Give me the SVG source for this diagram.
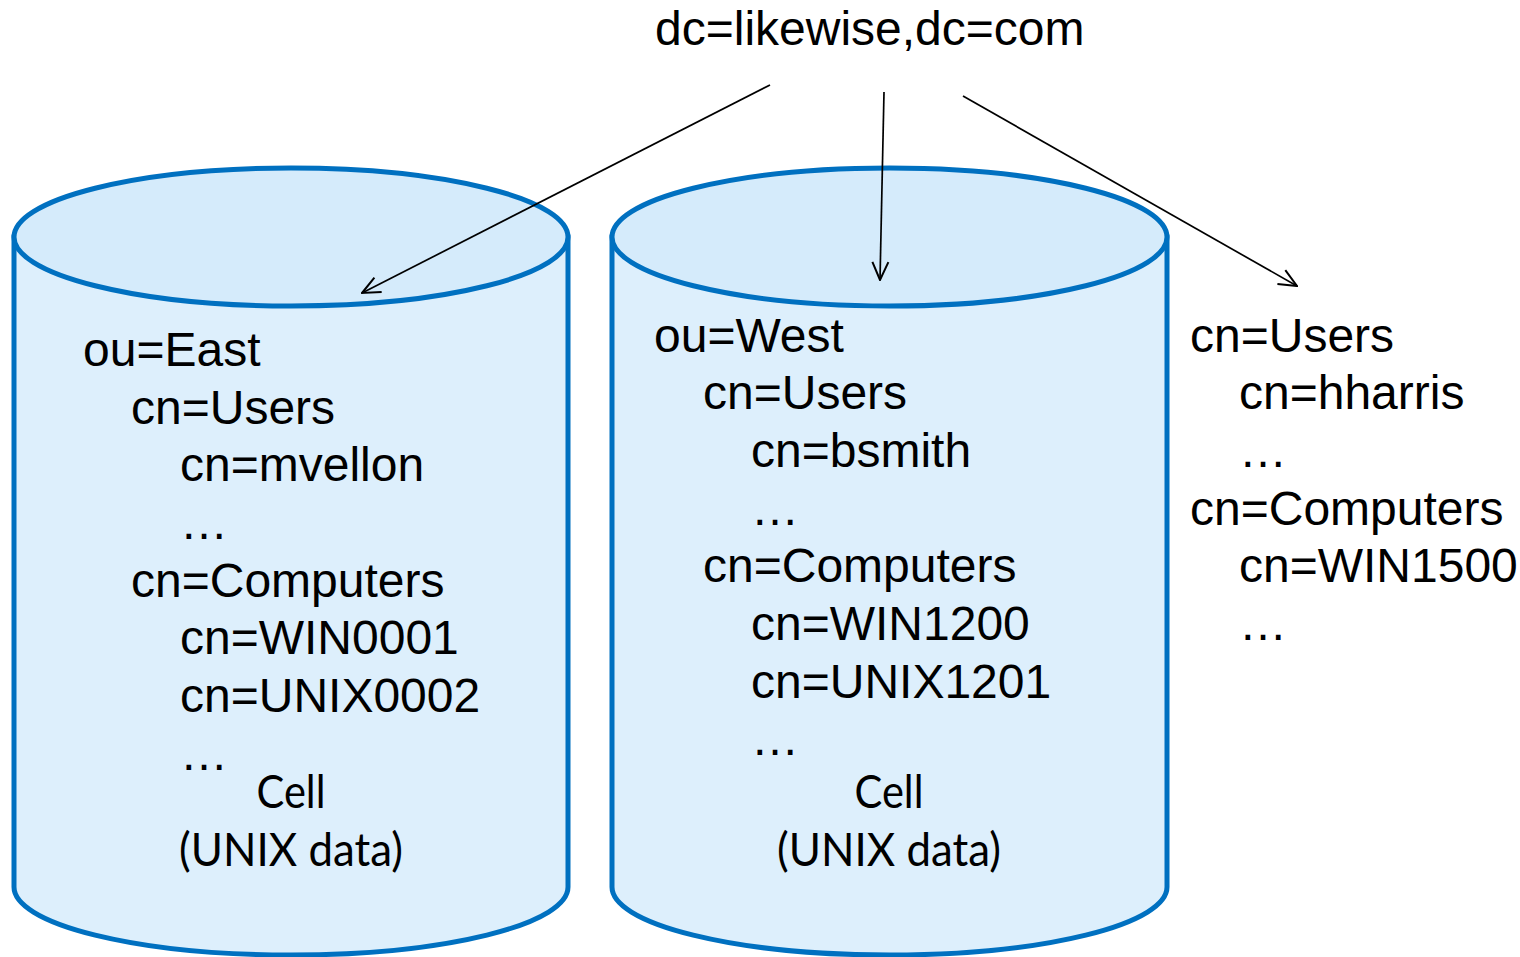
<svg xmlns="http://www.w3.org/2000/svg" width="1520" height="957" viewBox="0 0 1520 957">
<style>
.body{fill:#DDEFFC;stroke:#0070C0;stroke-width:5}
.top{fill:#D5EBFB;stroke:#0070C0;stroke-width:5}
.t{font-family:"Liberation Sans",Arial,sans-serif;font-size:48px;fill:#000}
.c{font-family:Lato,"Open Sans",sans-serif;font-size:46px;fill:#000;text-anchor:middle}
.arr{stroke:#000;stroke-width:1.7;fill:none;marker-end:url(#ah)}
</style>
<defs>
<marker id="ah" viewBox="0 0 20 20" refX="19" refY="10" markerWidth="20" markerHeight="20" markerUnits="userSpaceOnUse" orient="auto">
<path d="M1,2 L19,10 L1,18" fill="none" stroke="#000" stroke-width="2"/>
</marker>
</defs>
<rect width="1520" height="957" fill="#fff"/>
<g id="cyl-east">
<path class="body" d="M14,237 L14,887 A277,68 0 0 0 568,887 L568,237 Z"/>
<ellipse class="top" cx="291" cy="237" rx="277" ry="69"/>
<text class="t" x="83" y="366">ou=East</text>
<text class="t" x="131" y="424">cn=Users</text>
<text class="t" x="180" y="481">cn=mvellon</text>
<text class="t" x="180" y="539">…</text>
<text class="t" x="131" y="597">cn=Computers</text>
<text class="t" x="180" y="654">cn=WIN0001</text>
<text class="t" x="180" y="712">cn=UNIX0002</text>
<text class="t" x="180" y="770">…</text>
<text class="c" x="291" y="808" textLength="69" lengthAdjust="spacingAndGlyphs">Cell</text>
<text class="c" x="291" y="866" textLength="224" lengthAdjust="spacingAndGlyphs">(UNIX data)</text>
</g>
<g id="cyl-west">
<path class="body" d="M612,237 L612,887 A277.5,68 0 0 0 1167,887 L1167,237 Z"/>
<ellipse class="top" cx="889.5" cy="237" rx="277.5" ry="69"/>
<text class="t" x="654" y="352">ou=West</text>
<text class="t" x="703" y="409">cn=Users</text>
<text class="t" x="751" y="467">cn=bsmith</text>
<text class="t" x="751" y="525">…</text>
<text class="t" x="703" y="582">cn=Computers</text>
<text class="t" x="751" y="640">cn=WIN1200</text>
<text class="t" x="751" y="698">cn=UNIX1201</text>
<text class="t" x="751" y="755">…</text>
<text class="c" x="889" y="808" textLength="69" lengthAdjust="spacingAndGlyphs">Cell</text>
<text class="c" x="889" y="866" textLength="224" lengthAdjust="spacingAndGlyphs">(UNIX data)</text>
</g>
<g id="root">
<text class="t" x="655" y="45">dc=likewise,dc=com</text>
</g>
<g id="default-containers">
<text class="t" x="1190" y="352">cn=Users</text>
<text class="t" x="1239" y="409">cn=hharris</text>
<text class="t" x="1239" y="467">…</text>
<text class="t" x="1190" y="525">cn=Computers</text>
<text class="t" x="1239" y="582">cn=WIN1500</text>
<text class="t" x="1239" y="640">…</text>
</g>
<g id="connectors">
<line class="arr" x1="770" y1="85" x2="362" y2="293"/>
<line class="arr" x1="884" y1="92" x2="880" y2="280"/>
<line class="arr" x1="963" y1="96" x2="1297" y2="286"/>
</g>
</svg>
